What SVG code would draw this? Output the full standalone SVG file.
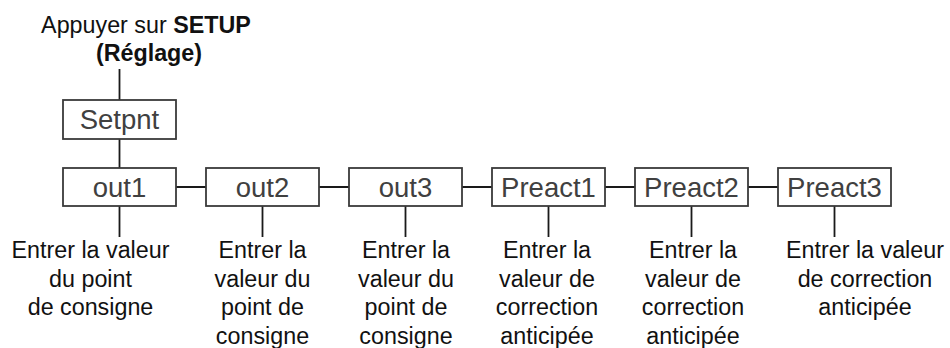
<svg xmlns="http://www.w3.org/2000/svg" width="950" height="348" viewBox="0 0 950 348">
<style>
.box{fill:#fff;stroke:#3a3a3a;stroke-width:1.8}
.lbl{font-family:"Liberation Sans",Arial,sans-serif;font-size:27.5px;fill:#404040;text-anchor:middle}
.txt{font-family:"Liberation Sans",Arial,sans-serif;font-size:23.3px;fill:#111;text-anchor:middle}
.b{font-weight:bold}
.ln{stroke:#1a1a1a;stroke-width:1.8;fill:none}
</style>
<rect width="950" height="348" fill="#fff"/>
<g id="start">
<text class="txt" x="146" y="33">Appuyer sur <tspan class="b">SETUP</tspan></text>
<text class="txt b" x="149" y="61">(Réglage)</text>
</g>
<g id="connectors">
<path class="ln" d="M119.5 69V100M119.5 139V168"/>
<path class="ln" d="M176 187H206M319 187H349M462 187H492M605 187H635M748 187H778"/>
<path class="ln" d="M119.5 206V237M262.5 206V237M405.5 206V237M548.5 206V237M691.5 206V237M834.5 206V237"/>
</g>
<g id="setpnt"><rect class="box" x="63" y="100" width="113" height="39"/><text class="lbl" x="119.5" y="129">Setpnt</text></g>
<g id="out1"><rect class="box" x="63" y="168" width="113" height="38"/><text class="lbl" x="119.5" y="197">out1</text></g>
<g id="out2"><rect class="box" x="206" y="168" width="113" height="38"/><text class="lbl" x="262.5" y="197">out2</text></g>
<g id="out3"><rect class="box" x="349" y="168" width="113" height="38"/><text class="lbl" x="405.5" y="197">out3</text></g>
<g id="preact1"><rect class="box" x="492" y="168" width="113" height="38"/><text class="lbl" x="548.5" y="197">Preact1</text></g>
<g id="preact2"><rect class="box" x="635" y="168" width="113" height="38"/><text class="lbl" x="691.5" y="197">Preact2</text></g>
<g id="preact3"><rect class="box" x="778" y="168" width="113" height="38"/><text class="lbl" x="834.5" y="197">Preact3</text></g>
<g id="desc1"><text class="txt" x="90.5" y="258">Entrer la valeur</text><text class="txt" x="90.5" y="286.5">du point</text><text class="txt" x="90.5" y="315">de consigne</text></g>
<g id="desc2"><text class="txt" x="262.5" y="258">Entrer la</text><text class="txt" x="262.5" y="286.5">valeur du</text><text class="txt" x="262.5" y="315">point de</text><text class="txt" x="262.5" y="344">consigne</text></g>
<g id="desc3"><text class="txt" x="406" y="258">Entrer la</text><text class="txt" x="406" y="286.5">valeur du</text><text class="txt" x="406" y="315">point de</text><text class="txt" x="406" y="344">consigne</text></g>
<g id="desc4"><text class="txt" x="547" y="258">Entrer la</text><text class="txt" x="547" y="286.5">valeur de</text><text class="txt" x="547" y="315">correction</text><text class="txt" x="547" y="344">anticipée</text></g>
<g id="desc5"><text class="txt" x="693" y="258">Entrer la</text><text class="txt" x="693" y="286.5">valeur de</text><text class="txt" x="693" y="315">correction</text><text class="txt" x="693" y="344">anticipée</text></g>
<g id="desc6"><text class="txt" x="865" y="258">Entrer la valeur</text><text class="txt" x="865" y="286.5">de correction</text><text class="txt" x="865" y="315">anticipée</text></g>
</svg>
